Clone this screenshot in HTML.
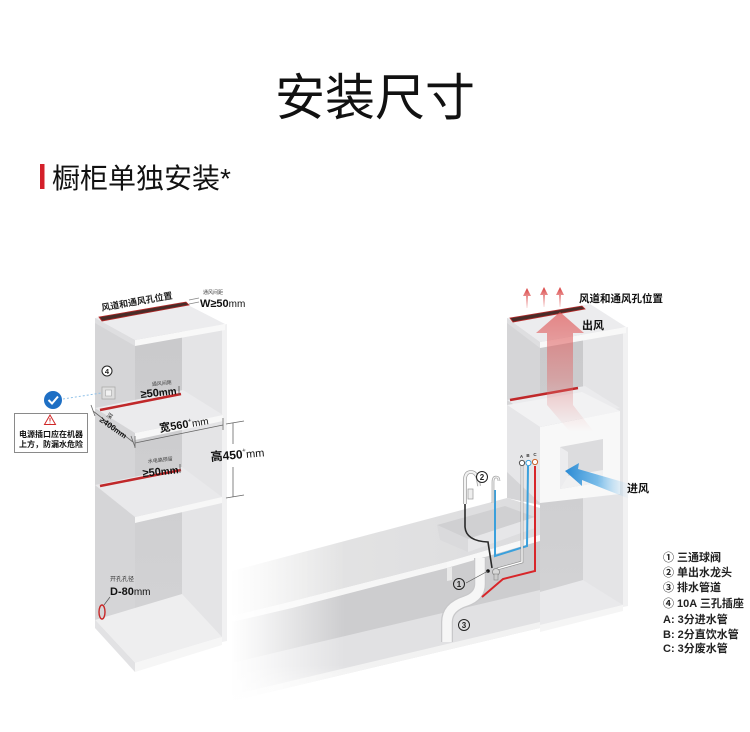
<!DOCTYPE html>
<html>
<head>
<meta charset="utf-8">
<style>
html,body{margin:0;padding:0;background:#fff;}
body{width:750px;height:732px;overflow:hidden;}
svg{display:block;}
text{font-family:"Liberation Sans","Noto Sans CJK SC",sans-serif;}
.cjk{font-family:"Liberation Sans","Noto Sans CJK SC",sans-serif;}
</style>
</head>
<body>
<svg width="750" height="732" viewBox="0 0 750 732" xmlns="http://www.w3.org/2000/svg">
<defs>
  <linearGradient id="fadeL" x1="0" y1="0" x2="1" y2="0">
    <stop offset="0" stop-color="#fff" stop-opacity="1"/>
    <stop offset="0.25" stop-color="#fff" stop-opacity="0.8"/>
    <stop offset="1" stop-color="#fff" stop-opacity="0"/>
  </linearGradient>
  <linearGradient id="fadeB" x1="0" y1="0" x2="0" y2="1">
    <stop offset="0" stop-color="#fff" stop-opacity="0"/>
    <stop offset="1" stop-color="#fff" stop-opacity="0.95"/>
  </linearGradient>
  <linearGradient id="redArrow" x1="0" y1="0" x2="0" y2="1">
    <stop offset="0" stop-color="#e05858" stop-opacity="0.7"/>
    <stop offset="0.55" stop-color="#e06a6a" stop-opacity="0.42"/>
    <stop offset="1" stop-color="#e88888" stop-opacity="0"/>
  </linearGradient>
  <linearGradient id="smallRed" x1="0" y1="0" x2="0" y2="1">
    <stop offset="0" stop-color="#d83a3a" stop-opacity="1"/>
    <stop offset="1" stop-color="#e06060" stop-opacity="0.1"/>
  </linearGradient>
  <linearGradient id="blueArrow" x1="0" y1="0" x2="1" y2="0">
    <stop offset="0" stop-color="#2a8ad4"/>
    <stop offset="0.5" stop-color="#5aaee6" stop-opacity="0.8"/>
    <stop offset="1" stop-color="#a8d4f2" stop-opacity="0"/>
  </linearGradient>
  <linearGradient id="backL" x1="0" y1="0" x2="0" y2="1">
    <stop offset="0" stop-color="#c9c9cb"/>
    <stop offset="1" stop-color="#d3d3d5"/>
  </linearGradient>
  <linearGradient id="counterTop" x1="0" y1="0" x2="1" y2="0">
    <stop offset="0" stop-color="#e6e6e6"/>
    <stop offset="1" stop-color="#dcdcde"/>
  </linearGradient>
</defs>

<!-- Title -->
<text x="375" y="115" text-anchor="middle" font-size="50" fill="#111" class="cjk">安装尺寸</text>
<!-- Subtitle -->
<rect x="40" y="164" width="4.5" height="25" fill="#d4202a"/>
<text x="52" y="188" font-size="28" fill="#111" class="cjk">橱柜单独安装*</text>

<!-- ================= COUNTER ================= -->
<polygon points="232,661 540,585 620,603 620,609 232,701" fill="#e1e1e3"/>
<polygon points="232,695 620,603 620,609 232,701" fill="#f2f2f2"/>
<polygon points="232,619 447,564 540,540 540,590 307,645 232,663" fill="#cdcdcf"/>
<polygon points="232,571 507,498 540,508 540,535 447,562 290,602 232,616" fill="url(#counterTop)"/>
<polygon points="437,525 505,506 535,517 468,539" fill="#d0d0d2"/>
<polygon points="437,525 468,539 468,552 440,540" fill="#dadadc"/>
<polygon points="468,539 535,517 535,528 468,552" fill="#e6e6e8"/>
<polygon points="232,616 290,602 447,562 447,568 292,608 232,622" fill="#f6f6f6"/>
<polygon points="447,562 540,535 540,541 447,568" fill="#f8f8f8"/>
<polygon points="447,568 452,567 452,580 447,581" fill="#eaeaea"/>
<!-- fades -->
<rect x="230" y="480" width="115" height="240" fill="url(#fadeL)"/>
<rect x="230" y="665" width="410" height="55" fill="url(#fadeB)"/>

<!-- ================= LEFT CABINET ================= -->
<polygon points="95,318 135,340 135,665 95,622" fill="#d5d5d7"/>
<polygon points="135,333 182,305 182,598 135,640" fill="url(#backL)"/>
<polygon points="182,303 222,325 222,640 182,596" fill="#e4e4e6"/>
<polygon points="222,325 227,324 227,641 222,642" fill="#f1f1f2"/>
<polygon points="95,318 182,302 225,324 135,340" fill="#ececee"/>
<polygon points="135,340 225,324 225,330 135,346" fill="#f8f8f8"/>
<polygon points="95,318 135,340 135,346 95,323" fill="#dedee0"/>
<polygon points="99,317 186,302 189,305 102,321" fill="#4a2c28" stroke="#b82a2a" stroke-width="0.8"/>
<polygon points="95,408 183,390 223,415 135,433" fill="#ebebed"/>
<polygon points="135,433 223,415 223,421 135,440" fill="#f7f7f7"/>
<line x1="100" y1="410" x2="181" y2="394" stroke="#c0282a" stroke-width="2.5"/>
<polygon points="95,485 182,467 222,497 135,517" fill="#e9e9eb"/>
<polygon points="135,517 222,497 222,503 135,523" fill="#f7f7f7"/>
<line x1="100" y1="486" x2="181" y2="470" stroke="#c0282a" stroke-width="2.5"/>
<polygon points="95,620 182,594 222,637 135,663" fill="#eeeeef"/>
<polygon points="135,663 222,637 222,645 135,672" fill="#f6f6f6"/>
<polygon points="95,620 135,663 135,672 95,628" fill="#e2e2e4"/>

<!-- left cabinet labels -->
<text x="102" y="311" font-size="9" font-weight="bold" fill="#222" transform="rotate(-10 102 311)">风道和通风孔位置</text>
<line x1="189" y1="304" x2="199" y2="302" stroke="#888" stroke-width="0.8"/>
<line x1="189" y1="300" x2="199" y2="298" stroke="#888" stroke-width="0.8"/>
<text x="203" y="294" font-size="5" fill="#444">通风间距</text>
<text x="200" y="307" fill="#111"><tspan font-size="11" font-weight="bold">W≥50</tspan><tspan font-size="10">mm</tspan></text>

<text x="152" y="386" font-size="5" fill="#444" transform="rotate(-6 152 386)">通风间距</text>
<text x="141" y="398" fill="#111" font-weight="bold" transform="rotate(-6 141 398)"><tspan font-size="11">≥50</tspan><tspan font-size="10">mm</tspan></text>
<line x1="179" y1="386" x2="179" y2="395" stroke="#555" stroke-width="0.8"/>

<text x="148" y="463" font-size="5" fill="#444" transform="rotate(-6 148 463)">水电路预留</text>
<text x="143" y="477" fill="#111" font-weight="bold" transform="rotate(-6 143 477)"><tspan font-size="11">≥50</tspan><tspan font-size="10">mm</tspan></text>
<line x1="180" y1="464" x2="180" y2="473" stroke="#555" stroke-width="0.8"/>

<line x1="135" y1="443" x2="223" y2="425" stroke="#666" stroke-width="0.8"/>
<line x1="135" y1="436" x2="135" y2="448" stroke="#666" stroke-width="0.8"/>
<line x1="223" y1="418" x2="223" y2="430" stroke="#666" stroke-width="0.8"/>
<text x="160" y="432" fill="#111" transform="rotate(-9 160 432)"><tspan font-size="11" font-weight="bold">宽560</tspan><tspan font-size="6" dy="-5">+</tspan><tspan font-size="10" dy="5">mm</tspan></text>

<line x1="233" y1="423" x2="233" y2="444" stroke="#666" stroke-width="0.8"/>
<line x1="233" y1="467" x2="233" y2="497" stroke="#666" stroke-width="0.8"/>
<line x1="226" y1="424" x2="244" y2="421" stroke="#666" stroke-width="0.8"/>
<line x1="226" y1="498" x2="244" y2="495" stroke="#666" stroke-width="0.8"/>
<text x="211" y="461" fill="#111" transform="rotate(-5 211 461)"><tspan font-size="12" font-weight="bold">高450</tspan><tspan font-size="6" dy="-6">+</tspan><tspan font-size="11" dy="6">mm</tspan></text>

<line x1="93" y1="411" x2="133" y2="442" stroke="#666" stroke-width="0.8"/>
<line x1="91" y1="405" x2="95" y2="416" stroke="#666" stroke-width="0.8"/>
<line x1="131" y1="436" x2="135" y2="447" stroke="#666" stroke-width="0.8"/>
<text x="106" y="416" font-size="6" fill="#222" transform="rotate(35 106 416)">深</text>
<text x="99" y="421" fill="#111" font-weight="bold" transform="rotate(35 99 421)"><tspan font-size="8">≥400</tspan><tspan font-size="7.5">mm</tspan></text>

<circle cx="107" cy="371" r="5" fill="#fff" stroke="#222" stroke-width="1"/>
<text x="107" y="374" font-size="7.5" font-weight="bold" text-anchor="middle" fill="#222">4</text>
<rect x="102" y="387" width="13" height="12" fill="#dedede" stroke="#aaa" stroke-width="0.8"/>
<rect x="105.5" y="390" width="6" height="6" fill="#f2f2f2" stroke="#999" stroke-width="0.5"/>
<line x1="63" y1="399" x2="101" y2="393" stroke="#8ec0e8" stroke-width="1" stroke-dasharray="2,2"/>
<circle cx="53" cy="400" r="9" fill="#1e6fc4"/>
<polyline points="48.5,400 52,403.5 58,396.5" fill="none" stroke="#fff" stroke-width="2"/>

<rect x="14.5" y="413.5" width="73" height="39" fill="#fff" stroke="#8a8a8a" stroke-width="1"/>
<polygon points="50,415 44.5,424.5 55.5,424.5" fill="#fff" stroke="#d02828" stroke-width="1"/>
<line x1="50" y1="418" x2="50" y2="421.5" stroke="#d02828" stroke-width="1"/>
<circle cx="50" cy="423" r="0.5" fill="#d02828"/>
<text x="51" y="437" font-size="8" font-weight="bold" text-anchor="middle" fill="#111">电源插口应在机器</text>
<text x="51" y="447" font-size="8" font-weight="bold" text-anchor="middle" fill="#111">上方，防漏水危险</text>

<text x="110" y="581" font-size="6" fill="#333">开孔孔径</text>
<text x="110" y="595" fill="#111"><tspan font-size="11" font-weight="bold">D-80</tspan><tspan font-size="10">mm</tspan></text>
<line x1="104" y1="605" x2="110" y2="597" stroke="#555" stroke-width="0.7"/>
<ellipse cx="102" cy="612" rx="3" ry="7" fill="none" stroke="#c82828" stroke-width="1.4"/>

<!-- ================= RIGHT CABINET ================= -->
<polygon points="507,318 540,342 540,505 507,498" fill="#d5d5d7"/>
<polygon points="540,336 583,310 583,600 540,622" fill="url(#backL)"/>
<polygon points="583,305 623,328 623,605 583,586" fill="#e4e4e6"/>
<polygon points="623,328 628,327 628,606 623,607" fill="#f1f1f2"/>
<polygon points="507,318 590,304 626,327 540,342" fill="#ececee"/>
<polygon points="540,342 626,327 626,333 540,348" fill="#f8f8f8"/>
<polygon points="507,318 540,342 540,348 507,323" fill="#dedee0"/>
<polygon points="510,318 582,306 585,309 513,322" fill="#4a2c28" stroke="#b82a2a" stroke-width="0.8"/>
<polygon points="507,400 585,386 620,408 540,422" fill="#ebebed"/>
<line x1="510" y1="400" x2="578" y2="388" stroke="#c0282a" stroke-width="2.5"/>
<polygon points="507,405 540,427 540,503 507,472" fill="#e6e6e8"/>
<polygon points="507,405 582,392 620,411 540,427" fill="#f2f2f3"/>
<polygon points="540,427 620,411 620,494 540,503" fill="#f8f8f8"/>
<polygon points="560,447 603,439 603,482 560,489" fill="#dcdcde"/>
<polygon points="560,447 568,452 568,482 560,489" fill="#ececee"/>
<polygon points="568,476 603,470 603,482 560,489" fill="#f0f0f1"/>
<polygon points="540,592 583,580 623,605 540,625" fill="#e9e9eb"/>
<polygon points="540,625 623,605 623,611 540,632" fill="#f5f5f5"/>

<!-- drain pipe -->
<path d="M480,558 L480,584 Q480,596 466,601 Q447,607 447,622 L447,642" fill="none" stroke="#c8c8ca" stroke-width="12"/>
<path d="M480,558 L480,584 Q480,596 466,601 Q447,607 447,622 L447,642" fill="none" stroke="#f6f6f6" stroke-width="9.5"/>

<!-- pipes -->
<path d="M465,503 L465,527 Q466,541 488,542 L492,568" fill="none" stroke="#2a2a2a" stroke-width="1.6"/>
<path d="M495,490 L495,556 L527,546 L528,466" fill="none" stroke="#3aa0dc" stroke-width="2"/>
<path d="M497,569 L522,562 L522,466" fill="none" stroke="#8a8a8a" stroke-width="2.6"/>
<path d="M497,569 L522,562 L522,466" fill="none" stroke="#fff" stroke-width="1.4"/>
<path d="M482,597 L503,579 L535,571 L535,466" fill="none" stroke="#d8262a" stroke-width="2"/>
<circle cx="496" cy="572" r="3.5" fill="#d8d8d8" stroke="#888" stroke-width="0.8"/>
<rect x="494" y="574" width="4" height="6" fill="#ccc" stroke="#888" stroke-width="0.6"/>
<circle cx="488" cy="571" r="1.8" fill="#111"/>
<line x1="466" y1="583" x2="488" y2="571" stroke="#555" stroke-width="0.7"/>

<text x="521.5" y="458" font-size="4.5" font-weight="bold" text-anchor="middle" fill="#333">A</text>
<text x="528" y="457" font-size="4.5" font-weight="bold" text-anchor="middle" fill="#333">B</text>
<text x="535" y="456" font-size="4.5" font-weight="bold" text-anchor="middle" fill="#333">C</text>
<circle cx="522" cy="463" r="2.6" fill="#fff" stroke="#555" stroke-width="1"/>
<circle cx="528.5" cy="463" r="2.6" fill="#fff" stroke="#3aa0dc" stroke-width="1"/>
<circle cx="535" cy="462" r="2.6" fill="#fff" stroke="#c8602a" stroke-width="1"/>

<path d="M465,504 L465,480 Q465,472 471,472 Q476,472 478,479 L479,486" fill="none" stroke="#9a9a9a" stroke-width="3.6"/>
<path d="M465,504 L465,480 Q465,472 471,472 Q476,472 478,479 L479,486" fill="none" stroke="#f2f2f2" stroke-width="2.2"/>
<rect x="468" y="489" width="5" height="10" fill="#eee" stroke="#999" stroke-width="0.7"/>
<path d="M493,503 L493,482 Q493,477 496,477 Q499,477 499,481" fill="none" stroke="#9a9a9a" stroke-width="2.6"/>
<path d="M493,503 L493,482 Q493,477 496,477 Q499,477 499,481" fill="none" stroke="#f2f2f2" stroke-width="1.3"/>

<circle cx="482" cy="477" r="5.5" fill="#fff" stroke="#222" stroke-width="1"/>
<text x="482" y="480" font-size="8" font-weight="bold" text-anchor="middle" fill="#222">2</text>
<circle cx="459" cy="584" r="5.5" fill="none" stroke="#222" stroke-width="1"/>
<text x="459" y="587" font-size="8" font-weight="bold" text-anchor="middle" fill="#222">1</text>
<circle cx="464" cy="625" r="5.5" fill="none" stroke="#222" stroke-width="1"/>
<text x="464" y="628" font-size="8" font-weight="bold" text-anchor="middle" fill="#222">3</text>

<!-- arrows -->
<path d="M560,312 L584,333 L573,333 L573,405 L594,432 L570,432 L547,405 L547,333 L536,333 Z" fill="url(#redArrow)"/>
<g fill="url(#smallRed)">
  <path d="M527,288 L531,296 L528,296 L528,308 L526,308 L526,296 L523,296 Z"/>
  <path d="M544,287 L548,295 L545,295 L545,307 L543,307 L543,295 L540,295 Z"/>
  <path d="M560,287 L564,295 L561,295 L561,307 L559,307 L559,295 L556,295 Z"/>
</g>
<path d="M565,471 L579,463 L578,469 Q602,476 630,484 L630,499 Q604,489 582,480 L582,486 Z" fill="url(#blueArrow)"/>

<text x="579" y="302" font-size="10.5" font-weight="bold" fill="#111">风道和通风孔位置</text>
<text x="582" y="329" font-size="11" font-weight="bold" fill="#111">出风</text>
<text x="627" y="492" font-size="11" font-weight="bold" fill="#111">进风</text>

<g font-size="11" font-weight="bold" fill="#222">
  <text x="663" y="561">① 三通球阀</text>
  <text x="663" y="576">② 单出水龙头</text>
  <text x="663" y="591">③ 排水管道</text>
  <text x="663" y="607">④ 10A 三孔插座</text>
  <text x="663" y="623">A:  3分进水管</text>
  <text x="663" y="638">B:  2分直饮水管</text>
  <text x="663" y="652">C:  3分废水管</text>
</g>
</svg>
</body>
</html>
